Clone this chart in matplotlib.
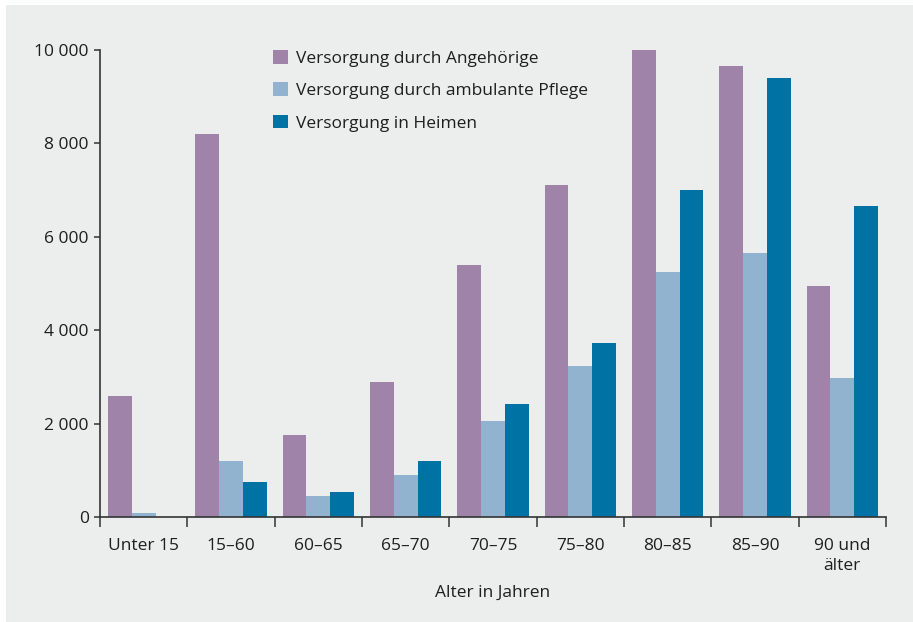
import numpy as np
import matplotlib
matplotlib.use('Agg')
import matplotlib.pyplot as plt
from matplotlib.patches import Rectangle

plt.rcParams['font.family'] = ['Open Sans', 'DejaVu Sans']

categories = ['Unter 15', '15–60', '60–65', '65–70', '70–75', '75–80',
              '80–85', '85–90', '90 und\nälter']
angehoerige = [2600, 8200, 1750, 2900, 5400, 7100, 10000, 9650, 4950]
ambulant = [90, 1200, 450, 900, 2050, 3230, 5240, 5650, 2970]
heime = [0, 750, 535, 1200, 2420, 3720, 7000, 9400, 6650]
series_labels = ['Versorgung durch Angehörige',
                 'Versorgung durch ambulante Pflege',
                 'Versorgung in Heimen']
yticks = [0, 2000, 4000, 6000, 8000, 10000]
ytick_labels = ['0', '2 000', '4 000', '6 000', '8 000', '10 000']
xlabel = 'Alter in Jahren'

colors = ['#A083A8', '#92B3CF', '#0072A3']
bg = '#ECEDED'
txt = '#1E1E1E'
spine = '#333333'

fig = plt.figure(figsize=(9.13, 6.22), dpi=100, facecolor='white')
fig.patches.append(Rectangle((6 / 913, 0), 1 - 6 / 913, 1 - 5 / 622,
                             transform=fig.transFigure, facecolor=bg,
                             edgecolor='none', zorder=-10))
ax = fig.add_axes([100 / 913, 105 / 622, 786 / 913, 467 / 622])
ax.set_facecolor('none')

x = np.arange(len(categories))
w = 0.272
for i, (vals, c, lab) in enumerate(zip([angehoerige, ambulant, heime], colors, series_labels)):
    ax.bar(x + (i - 1) * w, vals, width=w, color=c, label=lab, linewidth=0, clip_on=False)

ax.set_xlim(-0.5, len(categories) - 0.5)
ax.set_ylim(0, 10000)

ax.set_yticks(yticks)
ax.set_yticklabels(ytick_labels)
ax.tick_params(axis='y', length=4, width=1.1, color=spine, pad=4,
               labelsize=12.5, labelcolor=txt)

# ticks at group borders, labels at group centres
ax.set_xticks(np.arange(len(categories) + 1) - 0.5)
ax.set_xticklabels([])
ax.tick_params(axis='x', which='major', length=7, width=1.1, color=spine)
ax.set_xticks(x, minor=True)
ax.set_xticklabels(categories, minor=True, linespacing=1.35)
ax.tick_params(axis='x', which='minor', length=0, pad=15,
               labelsize=12.5, labelcolor=txt)

for s in ['top', 'right']:
    ax.spines[s].set_visible(False)
for s in ['left', 'bottom']:
    ax.spines[s].set_color(spine)
    ax.spines[s].set_linewidth(1.2)

ax.set_xlabel(xlabel, fontsize=12.5, color=txt, labelpad=8)

leg = ax.legend(loc='upper left', bbox_to_anchor=(273 / 913, 1 - 50 / 622),
                bbox_transform=fig.transFigure, frameon=False, fontsize=12.5,
                handlelength=0.86, handleheight=0.86, handletextpad=0.45,
                labelspacing=0.88, borderaxespad=0, borderpad=0)
for t in leg.get_texts():
    t.set_color(txt)

fig.savefig('out.png', dpi=100, facecolor=fig.get_facecolor())
